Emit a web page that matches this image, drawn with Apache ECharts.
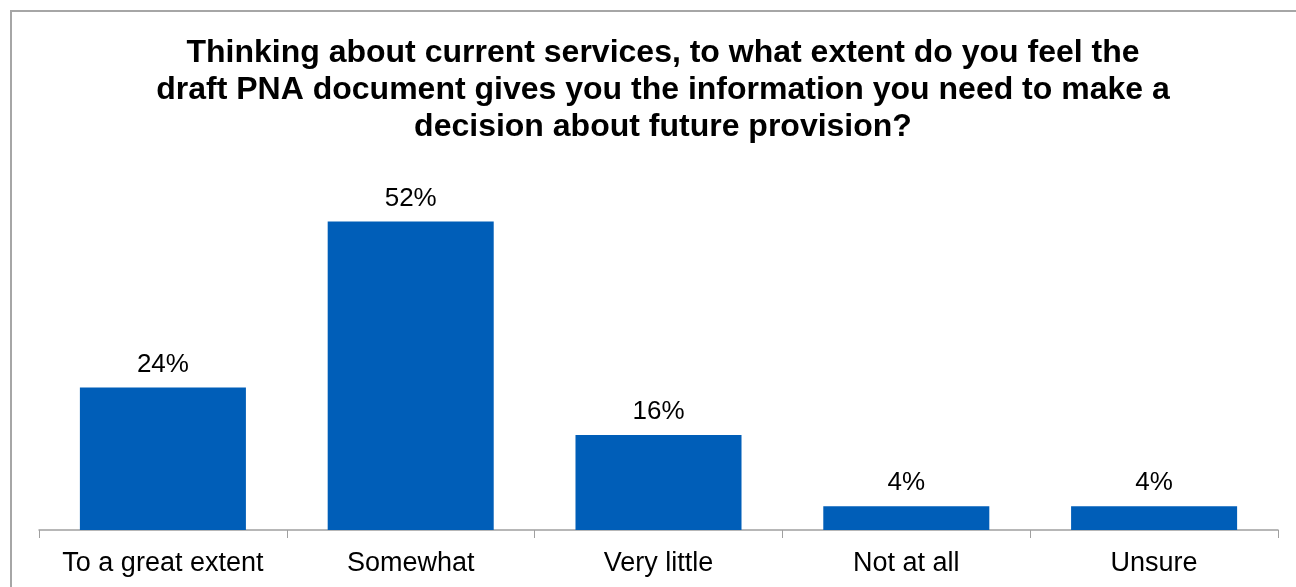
<!DOCTYPE html>
<html>
<head>
<meta charset="utf-8">
<script src="https://cdn.jsdelivr.net/npm/echarts@6/dist/echarts.min.js"></script>
<style>
html,body{margin:0;padding:0;background:#fff;overflow:hidden;}
#frame{position:absolute;left:10px;top:10px;width:1300px;height:600px;border:2px solid #a6a6a6;box-sizing:border-box;}
#chart{position:absolute;left:0;top:0;width:1296px;height:587px;}
</style>
</head>
<body>
<div id="frame"></div>
<div id="chart"></div>
<script>
const titleText = "Thinking about current services, to what extent do you feel the\ndraft PNA document gives you the information you need to make a\ndecision about future provision?";
const categories = ["To a great extent", "Somewhat", "Very little", "Not at all", "Unsure"];
const values = [24, 52, 16, 4, 4];

const chart = echarts.init(document.getElementById('chart'), null, {renderer: 'canvas'});
chart.setOption({
  animation: false,
  title: {
    text: titleText,
    left: 658,
    textAlign: 'center',
    top: 30,
    textStyle: {
      fontFamily: '"Liberation Sans", Arial, sans-serif',
      fontWeight: 'bold',
      fontSize: 32,
      lineHeight: 37,
      color: '#000'
    }
  },
  grid: {left: 39, right: 18, top: 174, bottom: 57, containLabel: false},
  xAxis: {
    type: 'category',
    data: categories,
    axisLine: {lineStyle: {color: '#a0a0a0', width: 1.5}},
    axisTick: {show: true, interval: 0, length: 8, lineStyle: {color: '#a0a0a0'}},
    axisLabel: {
      interval: 0,
      fontFamily: '"Liberation Sans", Arial, sans-serif',
      fontSize: 27,
      color: '#000',
      margin: 20
    }
  },
  yAxis: {
    type: 'value',
    min: 0,
    max: 60,
    show: false,
    splitLine: {show: false}
  },
  series: [{
    type: 'bar',
    data: values,
    barCategoryGap: '33%',
    itemStyle: {color: '#005EB8'},
    label: {
      show: true,
      position: 'top',
      distance: 10,
      formatter: '{c}%',
      fontFamily: '"Liberation Sans", Arial, sans-serif',
      fontSize: 26,
      color: '#000'
    }
  }]
});
</script>
</body>
</html>
